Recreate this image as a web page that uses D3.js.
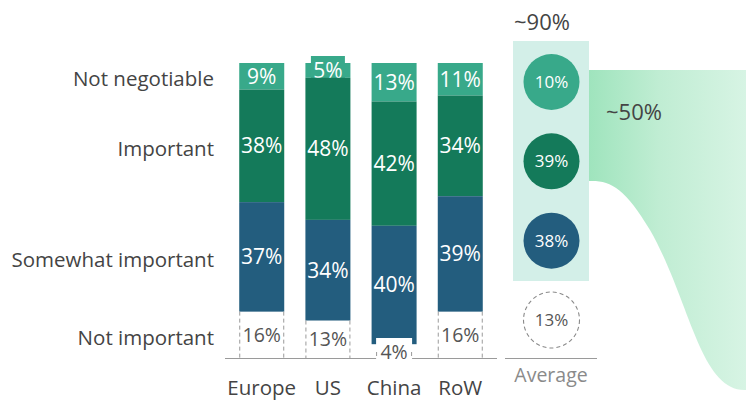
<!DOCTYPE html>
<html>
<head>
<meta charset="utf-8">
<script src="https://cdn.jsdelivr.net/npm/d3@7"></script>
<style>
  html, body { margin: 0; padding: 0; background: #fff; }
  svg { display: block; font-family: "Open Sans", "Noto Sans", sans-serif; }
</style>
</head>
<body>
<svg id="chart" width="746" height="401"></svg>
<script>
// Survey answers by region, stacked top-down
const regions = ["Europe", "US", "China", "RoW"];
const levels = ["Not negotiable", "Important", "Somewhat important", "Not important"];
const notNegotiable = [9, 5, 13, 11];
const important = [38, 48, 42, 34];
const somewhatImportant = [37, 34, 40, 39];
const notImportant = [16, 13, 4, 16];
const averageValues = [10, 39, 38, 13];
const averageLabel = "Average";
const topShareLabel = "~90%";
const midShareLabel = "~50%";

const colors = ["#38a98a", "#147a5a", "#235d7e"];
const svg = d3.select("#chart");

const y = d3.scaleLinear().domain([0, 100]).range([63, 359]);
const x = d3.scaleBand().domain(regions).range([226, 496]).paddingInner(0.32).paddingOuter(0.2);
const series = [notNegotiable, important, somewhatImportant, notImportant];

// gradient band flowing out of the average column
const defs = svg.append("defs");
const grad = defs.append("linearGradient").attr("id", "flow").attr("x1", 0).attr("x2", 1).attr("y1", 0).attr("y2", 0);
grad.append("stop").attr("offset", 0).attr("stop-color", "#9fe4bd");
grad.append("stop").attr("offset", 0.45).attr("stop-color", "#c0edd3");
grad.append("stop").attr("offset", 1).attr("stop-color", "#d7f4e4");

const flow = d3.path();
flow.moveTo(589, 70);
flow.lineTo(746, 70);
flow.lineTo(746, 390);
flow.bezierCurveTo(700, 392, 690, 300, 650, 230);
flow.bezierCurveTo(625, 188, 610, 180, 589, 181);
flow.closePath();
svg.append("path").attr("d", flow.toString()).attr("fill", "url(#flow)");

// baselines
svg.append("line").attr("x1", 225).attr("x2", 497).attr("y1", 358.5).attr("y2", 358.5)
  .attr("stroke", "#9a9a9a").attr("stroke-width", 1.2);
svg.append("line").attr("x1", 505).attr("x2", 597).attr("y1", 358.5).attr("y2", 358.5)
  .attr("stroke", "#9a9a9a").attr("stroke-width", 1.2);

// stacked bars
regions.forEach((r, i) => {
  const g = svg.append("g");
  const x0 = x(r), w = x.bandwidth(), cx = x0 + w / 2;
  let acc = 0;
  series.forEach((s, k) => {
    const v = s[i];
    const top = y(acc), bot = y(acc + v);
    acc += v;
    if (k < 3) {
      g.append("rect").attr("x", x0).attr("y", top).attr("width", w).attr("height", bot - top)
        .attr("fill", colors[k]);
      let ty = (top + bot) / 2;
      if (bot - top < 20) {
        // small segment: a tab behind the label so it can be read
        g.append("rect").attr("x", cx - 17).attr("y", top - 7).attr("width", 34).attr("height", 30)
          .attr("fill", colors[k]);
        ty = top + 8;
      }
      g.append("text").attr("x", cx).attr("y", ty).attr("dy", "0.35em")
        .attr("text-anchor", "middle").attr("fill", "#fff").attr("font-size", 21)
        .text(v + "%");
    } else {
      // "not important" share: open box with dashed sides
      let bx0 = x0, bx1 = x0 + w, btop = y(100 - v);
      const small = 359 - btop < 25;
      if (small) {
        bx0 = cx - 18; bx1 = cx + 18; btop = 338;
        g.append("rect").attr("x", bx0).attr("y", btop).attr("width", bx1 - bx0).attr("height", 26)
          .attr("fill", "#fff");
      }
      [bx0 + 0.5, bx1 - 0.5].forEach(xx => {
        g.append("line").attr("x1", xx).attr("x2", xx).attr("y1", small ? 352 : btop).attr("y2", 358)
          .attr("stroke", "#9a9a9a").attr("stroke-width", 1).attr("stroke-dasharray", "4,3");
      });
      const ty = small ? 352 : (btop + 358) / 2;
      g.append("text").attr("x", cx).attr("y", ty).attr("dy", "0.35em")
        .attr("text-anchor", "middle").attr("fill", "#555").attr("font-size", 19.5)
        .text(v + "%");
    }
  });
});

// region names
svg.append("g").selectAll("text").data(regions).join("text")
  .attr("x", d => x(d) + x.bandwidth() / 2).attr("y", 388).attr("dy", "0.35em")
  .attr("text-anchor", "middle").attr("fill", "#444").attr("font-size", 20.5)
  .text(d => d);

// level names on the left, aligned with the first region's segments
let accL = 0;
const levelY = series.map(s => { const c = y(accL + s[0] / 2); accL += s[0]; return c; });
svg.append("g").selectAll("text").data(levels).join("text")
  .attr("x", 214).attr("y", (d, i) => levelY[i] + 3).attr("dy", "0.35em")
  .attr("text-anchor", "end").attr("fill", "#444").attr("font-size", 20.5)
  .text(d => d);

// average column
const ay = d3.scalePoint().domain(levels).range([82, 320]);
svg.append("rect").attr("x", 513).attr("y", 41).attr("width", 76).attr("height", 240).attr("fill", "#d3efe8");
const avg = svg.append("g");
levels.forEach((l, k) => {
  const cy = ay(l);
  if (k < 3) {
    avg.append("circle").attr("cx", 551.5).attr("cy", cy).attr("r", 28).attr("fill", colors[k]);
    avg.append("text").attr("x", 551.5).attr("y", cy).attr("dy", "0.35em").attr("text-anchor", "middle")
      .attr("fill", "#fff").attr("font-size", 17).text(averageValues[k] + "%");
  } else {
    avg.append("circle").attr("cx", 551.5).attr("cy", cy).attr("r", 28).attr("fill", "none")
      .attr("stroke", "#8a8a8a").attr("stroke-width", 1.1).attr("stroke-dasharray", "4,3");
    avg.append("text").attr("x", 551.5).attr("y", cy).attr("dy", "0.35em").attr("text-anchor", "middle")
      .attr("fill", "#555").attr("font-size", 17).text(averageValues[k] + "%");
  }
});
svg.append("text").attr("x", 551).attr("y", 375).attr("dy", "0.35em").attr("text-anchor", "middle")
  .attr("fill", "#8a8a8a").attr("font-size", 19.5).text(averageLabel);
svg.append("text").attr("x", 542).attr("y", 22).attr("dy", "0.35em").attr("text-anchor", "middle")
  .attr("fill", "#444").attr("font-size", 22).text(topShareLabel);
svg.append("text").attr("x", 634).attr("y", 112).attr("dy", "0.35em").attr("text-anchor", "middle")
  .attr("fill", "#444").attr("font-size", 22).text(midShareLabel);
</script>
</body>
</html>
